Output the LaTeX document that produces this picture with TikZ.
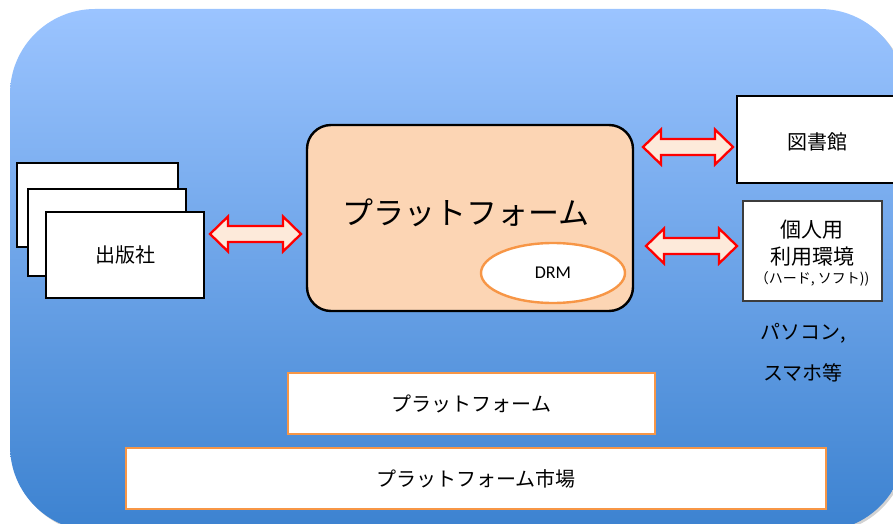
\documentclass[tikz,border=0pt]{standalone}
\usepackage{fontspec}
\setmainfont{Noto Sans CJK JP}
\newfontfamily\drmfont{Carlito}
\usetikzlibrary{shapes.geometric,calc}
\definecolor{bgtop}{RGB}{155,196,255}
\definecolor{bgbot}{RGB}{60,130,208}
\definecolor{peach}{RGB}{252,213,180}
\definecolor{lightpeach}{RGB}{253,234,218}
\definecolor{orangeline}{RGB}{247,150,70}
\definecolor{boxgrey}{RGB}{60,60,60}
\newcommand{\blockarrow}[2]{%
  \draw[blockarrowstyle] (#1) -- ($(#1)+(18,-17.5)$) -- ($(#1)+(18,-8)$) -- ($(#2)+(-18,-8)$)
    -- ($(#2)+(-18,-17.5)$) -- (#2) -- ($(#2)+(-18,17.5)$) -- ($(#2)+(-18,8)$)
    -- ($(#1)+(18,8)$) -- ($(#1)+(18,17.5)$) -- cycle;}
\begin{document}
\begin{tikzpicture}[x=1pt,y=-1pt,
  blackbox/.style={draw=black,line width=2.4pt,fill=white,inner sep=0pt},
  thinbox/.style={draw=boxgrey,line width=1.2pt,fill=white,inner sep=0pt},
  orangebox/.style={draw=orangeline,line width=2.4pt,fill=white,inner sep=0pt},
  blockarrowstyle/.style={draw=red,line width=2.3pt,fill=lightpeach,line join=miter},
  label/.style={inner sep=0pt,font=\fontsize{20}{24}\selectfont}]
\useasboundingbox (0,0) rectangle (893,524);
\begin{scope}
\clip (0,0) rectangle (893,524);
\fill[gray!35,rounded corners=85pt] (12,11) rectangle (907,533);
\shade[top color=bgtop,bottom color=bgbot,rounded corners=85pt] (10,9) rectangle (905,531);
\end{scope}
% publishers
\node[blackbox,minimum width=161pt,minimum height=84pt] (pub1) at (97.5,205) {};
\node[blackbox,minimum width=158pt,minimum height=87pt] (pub2) at (107,232.5) {};
\node[blackbox,minimum width=158pt,minimum height=86pt,label] (pub3) at (125,255) {出版社};
% platform
\node[draw=black,line width=2.4pt,fill=peach,rounded corners=24pt,minimum width=326pt,minimum height=186pt] (plat) at (470,218) {};
\node[label,font=\fontsize{31}{36}\selectfont] (plattext) at (466,213) {プラットフォーム};
\node[ellipse,draw=orangeline,line width=2.4pt,fill=white,minimum width=144pt,minimum height=60pt,inner sep=0pt,font=\drmfont\fontsize{18}{20}\selectfont] (drm) at (553,273) {DRM};
% library
\node[blackbox,minimum width=163pt,minimum height=87pt] (lib) at (818.5,139.5) {};
\node[label] (libtext) at (817,142) {図書館};
% personal
\node[thinbox,minimum width=139pt,minimum height=100pt] (pers) at (812.5,251) {};
\node[label,font=\fontsize{21}{24}\selectfont] (pers1) at (812,230) {個人用};
\node[label,font=\fontsize{21}{24}\selectfont] (pers2) at (812,257) {利用環境};
\node[label,font=\fontsize{14}{16}\selectfont] (pers3) at (812,279) {（ハード, ソフト))};
\node[label] (pc) at (803,333) {パソコン,};
\node[label] (sp) at (803,373) {スマホ等};
% bottom bars
\node[orangebox,minimum width=367pt,minimum height=61pt,label] (bar1) at (471.5,403.5) {プラットフォーム};
\node[orangebox,minimum width=700pt,minimum height=61pt,label] (bar2) at (476,478.5) {プラットフォーム市場};
% arrows
\coordinate (la1) at (210,234);
\coordinate (la2) at (301,234);
\coordinate (ua1) at (643,147);
\coordinate (ua2) at (733,147);
\coordinate (da1) at (646,246);
\coordinate (da2) at (737,246);
\blockarrow{la1}{la2}
\blockarrow{ua1}{ua2}
\blockarrow{da1}{da2}
\end{tikzpicture}
\end{document}
